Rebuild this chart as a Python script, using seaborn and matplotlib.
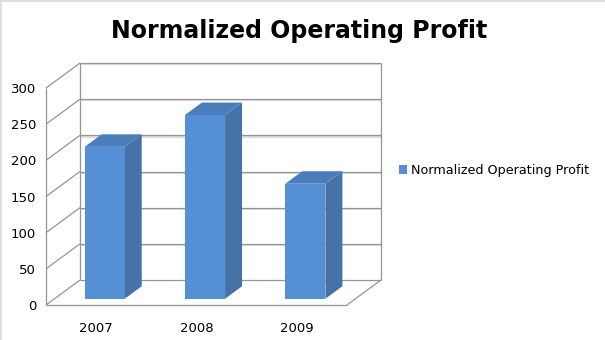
import matplotlib
matplotlib.use("Agg")
import matplotlib.pyplot as plt
from matplotlib.patches import Polygon, Patch
from matplotlib.lines import Line2D
import seaborn as sns
import pandas as pd

years = ["2007", "2008", "2009"]
profit = [210, 254, 159]
series_name = "Normalized Operating Profit"
y_ticks = [0, 50, 100, 150, 200, 250, 300]

W, H = 605, 340
fig = plt.figure(figsize=(W / 100, H / 100), dpi=100)
fig.patch.set_facecolor("white")

# front plane of the 3-D box, in pixels
x0, x1, yb, yt = 46, 347, 305, 88
ax = fig.add_axes([x0 / W, 1 - yb / H, (x1 - x0) / W, (yb - yt) / H])
ax.set_xlim(-0.5, 2.5)
ax.set_ylim(0, 300)
ppx = (x1 - x0) / 3.0
ppy = (yb - yt) / 300.0
DX = 34 / ppx      # depth offset of the back wall, data units
DY = 25 / ppy

front, side, top = "#5590D6", "#4672A8", "#4A7EBB"
wall = "#959595"
shadow = "#d6d6d6"

df = pd.DataFrame({"year": years, "profit": profit})
sns.barplot(data=df, x="year", y="profit", color=front, saturation=1,
            width=0.4, linewidth=0, ax=ax, zorder=5)

# walls and floor
lw = 0.9
def seg(xs, ys, c=wall, z=1, lw=lw):
    ax.plot(xs, ys, color=c, lw=lw, clip_on=False, zorder=z,
            solid_capstyle="butt")

bx0, bx1 = -0.5 + DX, 2.5 + DX
ppt = 1 / ppy  # one pixel in value units
for v in y_ticks:
    # shadow under each back-wall gridline
    if v > 0:
        seg([bx0, bx1], [v + DY - 1.2 * ppt, v + DY - 1.2 * ppt], c=shadow, lw=1.2, z=0.5)
    seg([bx0, bx1], [v + DY, v + DY])
    seg([-0.5, bx0], [v, v + DY])
seg([bx0, bx0], [DY, 300 + DY])
seg([bx1, bx1], [DY, 300 + DY])
seg([-0.5, -0.5], [0, 300])
seg([-0.5, 2.5], [0, 0])
seg([2.5, bx1], [0, DY])

# give each bar depth: shift the front face and add side and top faces
f0, f1 = 0.25, 0.75
for p in ax.patches:
    x = p.get_x() + f0 * DX
    w = p.get_width()
    h = p.get_height()
    y0 = f0 * DY
    p.set_x(x)
    p.set_y(y0)
    d = (f1 - f0)
    ax.add_patch(Polygon([(x + w, y0), (x + w + d * DX, y0 + d * DY),
                          (x + w + d * DX, y0 + h + d * DY), (x + w, y0 + h)],
                         closed=True, facecolor=side, edgecolor="none",
                         zorder=4, clip_on=False))
    ax.add_patch(Polygon([(x, y0 + h), (x + w, y0 + h),
                          (x + w + d * DX, y0 + h + d * DY), (x + d * DX, y0 + h + d * DY)],
                         closed=True, facecolor=top, edgecolor="none",
                         zorder=4, clip_on=False))
    p.set_clip_on(False)

for s in ax.spines.values():
    s.set_visible(False)
ax.set_facecolor("none")
ax.set_yticks(y_ticks)
ax.set_yticklabels([str(v) for v in y_ticks])
ax.tick_params(axis="y", length=0, pad=7, labelsize=9.5)
ax.tick_params(axis="x", length=0, pad=12, labelsize=9.5)
ax.set_xlabel("")
ax.set_ylabel("")

fig.text(299 / W, 1 - 31 / H, series_name, ha="center", va="center",
         fontsize=17, fontweight="bold")

fig.legend(handles=[Patch(facecolor=front, edgecolor="none")], labels=[series_name],
           loc="center left", bbox_to_anchor=(399 / W, 1 - 170.5 / H),
           frameon=False, handlelength=0.65, handleheight=0.65,
           handletextpad=0.3, fontsize=9.2, borderpad=0, borderaxespad=0)

# light frame along the top and left edges
fig.add_artist(Line2D([0.8 / W, 0.8 / W], [0, 1], transform=fig.transFigure,
                      color="#d9d9d9", lw=1.2))
fig.add_artist(Line2D([0, 1], [1 - 0.8 / H, 1 - 0.8 / H], transform=fig.transFigure,
                      color="#d9d9d9", lw=1.2))

fig.savefig("out.png", dpi=100, facecolor="white")
